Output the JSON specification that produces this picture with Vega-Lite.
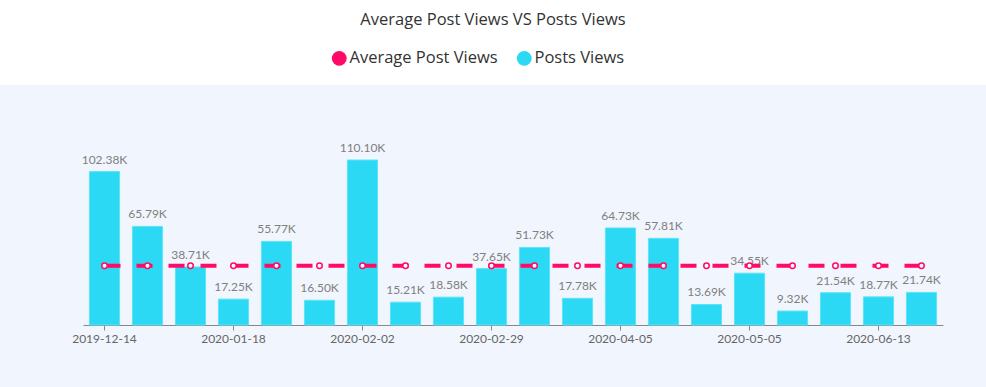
{
  "$schema": "https://vega.github.io/schema/vega-lite/v6.json",
  "width": 986,
  "height": 302,
  "autosize": {"type": "none"},
  "padding": {"top": 85, "left": 0, "right": 0, "bottom": 0},
  "background": "white",
  "title": {
    "text": "Average Post Views VS Posts Views",
    "fontSize": 16.5,
    "fontWeight": "normal",
    "color": "#333333",
    "font": "Open Sans",
    "anchor": "middle",
    "frame": "group",
    "orient": "top",
    "offset": 22
  },
  "data": {
    "values": [
      {"date": "2019-12-14", "views": 102380, "avg": 39480},
      {"date": "2019-12-21", "views": 65790, "avg": 39480},
      {"date": "2020-01-04", "views": 38710, "avg": 39480},
      {"date": "2020-01-18", "views": 17250, "avg": 39480},
      {"date": "2020-01-22", "views": 55770, "avg": 39480},
      {"date": "2020-01-28", "views": 16500, "avg": 39480},
      {"date": "2020-02-02", "views": 110100, "avg": 39480},
      {"date": "2020-02-08", "views": 15210, "avg": 39480},
      {"date": "2020-02-22", "views": 18580, "avg": 39480},
      {"date": "2020-02-29", "views": 37650, "avg": 39480},
      {"date": "2020-03-07", "views": 51730, "avg": 39480},
      {"date": "2020-03-21", "views": 17780, "avg": 39480},
      {"date": "2020-04-05", "views": 64730, "avg": 39480},
      {"date": "2020-04-12", "views": 57810, "avg": 39480},
      {"date": "2020-04-25", "views": 13690, "avg": 39480},
      {"date": "2020-05-05", "views": 34550, "avg": 39480},
      {"date": "2020-05-16", "views": 9320, "avg": 39480},
      {"date": "2020-05-30", "views": 21540, "avg": 39480},
      {"date": "2020-06-13", "views": 18770, "avg": 39480},
      {"date": "2020-06-20", "views": 21740, "avg": 39480}
    ]
  },
  "encoding": {
    "x": {
      "field": "date",
      "type": "ordinal",
      "sort": null,
      "scale": {"range": [83, 943], "paddingInner": 0.3, "paddingOuter": 0.15},
      "axis": {
        "title": null,
        "orient": "bottom",
        "offset": -62,
        "values": ["2019-12-14", "2020-01-18", "2020-02-02", "2020-02-29", "2020-04-05", "2020-05-05", "2020-06-13"],
        "labelAngle": 0,
        "labelColor": "#666666",
        "labelFontSize": 12,
        "labelFont": "Lato",
        "labelPadding": 3,
        "domainColor": "#888888",
        "tickColor": "#888888",
        "tickSize": 5,
        "grid": false
      }
    }
  },
  "layer": [
    {
      "mark": {"type": "bar", "stroke": "#5ee3f8", "strokeWidth": 1},
      "encoding": {
        "y": {
          "field": "views",
          "type": "quantitative",
          "scale": {"domain": [-41370, 160150], "nice": false, "zero": false},
          "axis": null
        },
        "color": {
          "datum": "Posts Views",
          "type": "nominal",
          "scale": {"domain": ["Average Post Views", "Posts Views"], "range": ["#ff0a66", "#2cd9f5"]}
        }
      }
    },
    {
      "mark": {"type": "text", "baseline": "bottom", "dy": -5, "fontSize": 12, "font": "Lato", "color": "#808080",
        "text": {"expr": "format(datum.views/1000, '.2f') + 'K'"}},
      "encoding": {
        "y": {"field": "views", "type": "quantitative"}
      }
    },
    {
      "mark": {"type": "line", "strokeWidth": 4, "strokeDash": [16, 16], "strokeCap": "butt"},
      "encoding": {
        "y": {"field": "avg", "type": "quantitative"},
        "color": {"datum": "Average Post Views", "type": "nominal"}
      }
    },
    {
      "mark": {"type": "point", "shape": "circle", "filled": true, "fill": "white", "stroke": "#ff0a66", "strokeWidth": 1.5, "size": 30, "opacity": 1},
      "encoding": {
        "y": {"field": "avg", "type": "quantitative"}
      }
    }
  ],
  "resolve": {"scale": {"y": "shared"}},
  "config": {
    "view": {"fill": "#f1f5fd", "stroke": null},
    "legend": {
      "orient": "none",
      "legendX": 331,
      "legendY": -35,
      "direction": "horizontal",
      "title": null,
      "padding": 0,
      "symbolType": "circle",
      "symbolSize": 220,
      "symbolStrokeWidth": 0,
      "labelFontSize": 16.5,
      "labelFont": "Open Sans",
      "labelColor": "#333333",
      "labelOffset": 2,
      "columnPadding": 18
    }
  }
}
